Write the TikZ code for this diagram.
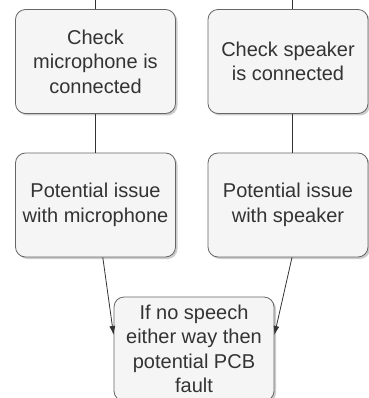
\documentclass[tikz,border=0pt]{standalone}
\usepackage{fontspec}
\setmainfont{Liberation Sans}
\usetikzlibrary{arrows.meta,shadows}
\definecolor{boxfill}{HTML}{F5F5F5}
\definecolor{boxline}{HTML}{666666}
\definecolor{txt}{HTML}{333333}
\begin{document}
\begin{tikzpicture}[x=1pt,y=-1pt,
  thick,main node/.style={rectangle,rounded corners=10pt,draw=boxline,fill=boxfill,
    text=txt,align=center,minimum width=160pt,minimum height=104pt,
    font=\fontsize{20}{24.5}\selectfont,
    drop shadow={shadow xshift=2pt,shadow yshift=-2pt,fill=black!40,opacity=.5}}]
  \useasboundingbox (0,0) rectangle (368,398);
  \node[main node] (1) at (95.5,61.5) {Check\\microphone is\\connected};
  \node[main node] (2) at (288,61.5) {Check speaker\\is connected};
  \node[main node] (3) at (95.5,205) {Potential issue\\with microphone};
  \node[main node] (4) at (288,205) {Potential issue\\with speaker};
  \node[main node] (5) at (194,349) {If no speech\\either way then\\potential PCB\\fault};
  \coordinate (a) at (95.5,0);
  \coordinate (b) at (292,0);

  \path[every edge/.style={draw=txt}]
   (a) edge (1)
   (b) edge ([xshift=4pt]2.north)
   (1) edge (3)
   ([xshift=4pt]2.south) edge ([xshift=4pt]4.north)
   (3) edge[-{Latex[length=9pt,width=6pt]}] ([yshift=14pt]5.west)
   ([xshift=4pt]4.south) edge[-{Latex[length=9pt,width=6pt]}] ([yshift=14pt]5.east);
\end{tikzpicture}
\end{document}
